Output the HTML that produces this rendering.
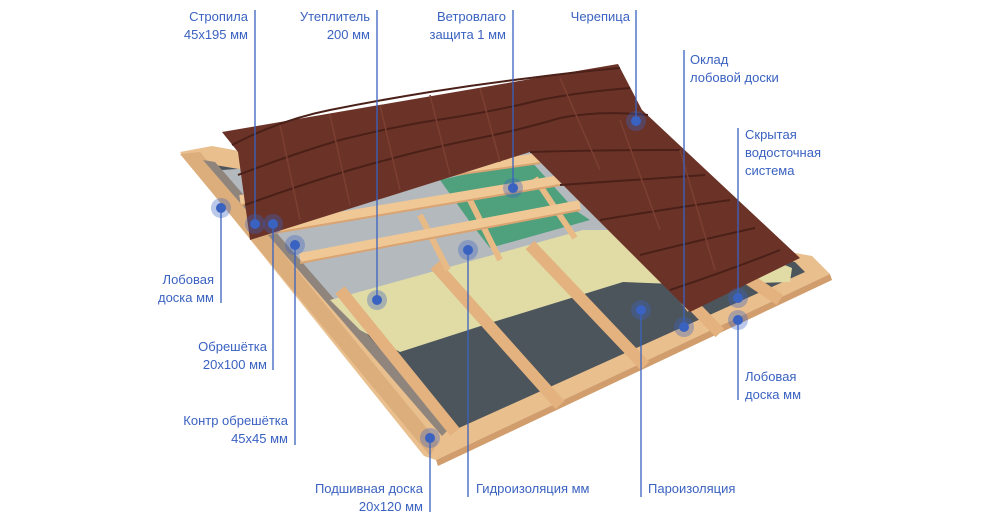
<!DOCTYPE html>
<html><head><meta charset="utf-8"><style>
html,body{margin:0;padding:0;background:#fff;width:1000px;height:522px;overflow:hidden}
svg{display:block}
text{font-family:"Liberation Sans","DejaVu Sans",sans-serif;font-size:13px;fill:#3a62c0}
</style></head><body>
<svg width="1000" height="522" viewBox="0 0 1000 522" xmlns="http://www.w3.org/2000/svg">
<!-- frame -->
<polygon points="180,152 212,146 812,256 830,274 436,460 424,456" fill="#e9bf8e"/>
<polygon points="180,154 200,152 438,442 430,456" fill="#dcae7c"/>
<polygon points="436,460 830,274 832,280 438,466" fill="#d19d6c"/>
<!-- dark inner -->
<polygon points="215,165 795,262 805,272 450,432" fill="#4d555c"/>
<!-- grey gutter channel -->
<polygon points="203,160 215,162 450,428 442,436" fill="#8f857c"/>
<!-- grey membrane -->
<polygon points="222,170 540,150 610,232 390,292 335,300" fill="#b4b9bd"/>
<!-- green -->
<polygon points="440,180 530,160 575,210 590,220 490,248 470,222" fill="#4fa07d"/>
<!-- insulation -->
<polygon points="330,300 583,230 700,230 792,268 790,282 700,285 623,282 490,323 400,352 360,330" fill="#e1dca6"/>
<!-- rafters -->
<g stroke="#e3b27f" stroke-width="12" stroke-linecap="butt">
<line x1="340" y1="290" x2="455" y2="432"/>
<line x1="435" y1="265" x2="560" y2="405"/>
<line x1="530" y1="245" x2="645" y2="366"/>
<line x1="615" y1="225" x2="720" y2="333"/>
<line x1="690" y1="240" x2="780" y2="300"/>
</g>
<!-- counter battens -->
<g stroke="#e8bb86" stroke-width="6">
<line x1="420" y1="215" x2="448" y2="270"/>
<line x1="470" y1="200" x2="500" y2="260"/>
<line x1="535" y1="178" x2="575" y2="238"/>
<line x1="600" y1="190" x2="690" y2="310"/>
</g>
<!-- battens -->
<g stroke="#f0c896" stroke-width="10">
<line x1="240" y1="200" x2="540" y2="158"/>
<line x1="262" y1="230" x2="560" y2="180"/>
<line x1="300" y1="258" x2="580" y2="205"/>
</g>
<g stroke="#d9a472" stroke-width="2">
<line x1="240" y1="205" x2="540" y2="163"/>
<line x1="262" y1="235" x2="560" y2="185"/>
<line x1="300" y1="263" x2="580" y2="210"/>
</g>
<!-- tiles -->
<polygon points="222,132 618,64 642,110 800,258 690,312 530,152 250,240 238,152" fill="#6b3328"/>
<g fill="none" stroke="#4b2018" stroke-width="2">
<path d="M232,145 Q280,120 330,110 Q380,100 430,92 Q480,84 530,78 Q575,72 620,68"/>
<path d="M238,175 Q290,155 340,140 Q400,125 450,118 Q500,110 540,100 Q580,92 630,88"/>
<path d="M245,205 Q300,185 350,170 Q420,150 470,140 Q520,130 560,118 Q600,110 648,115"/>
<path d="M530,152 Q600,150 680,150"/>
<path d="M560,185 Q630,180 705,175"/>
<path d="M600,220 Q660,210 730,200"/>
<path d="M640,255 Q700,240 755,228"/>
<path d="M670,290 Q730,270 780,250"/>
</g>
<g stroke="#7c3f31" stroke-width="1.5">
<line x1="280" y1="125" x2="300" y2="220"/><line x1="330" y1="115" x2="350" y2="205"/>
<line x1="380" y1="105" x2="400" y2="190"/><line x1="430" y1="95" x2="450" y2="175"/>
<line x1="480" y1="88" x2="500" y2="162"/><line x1="560" y1="78" x2="600" y2="170"/>
<line x1="620" y1="120" x2="660" y2="230"/><line x1="680" y1="150" x2="715" y2="270"/>
</g>
<!-- leader lines -->
<g stroke="#3a62c0" stroke-width="1.3">
<line x1="255" y1="10" x2="255" y2="224"/>
<line x1="377" y1="10" x2="377" y2="300"/>
<line x1="513" y1="10" x2="513" y2="188"/>
<line x1="636" y1="10" x2="636" y2="121"/>
<line x1="684" y1="50" x2="684" y2="327"/>
<line x1="738" y1="128" x2="738" y2="298"/>
<line x1="738" y1="320" x2="738" y2="400"/>
<line x1="641" y1="310" x2="641" y2="497"/>
<line x1="468" y1="250" x2="468" y2="497"/>
<line x1="430" y1="438" x2="430" y2="512"/>
<line x1="295" y1="245" x2="295" y2="445"/>
<line x1="273" y1="224" x2="273" y2="370"/>
<line x1="221" y1="208" x2="221" y2="303"/>
</g>
<g fill="#3a62c0">
<g fill-opacity="0.35">
<circle cx="255" cy="224" r="10"/><circle cx="377" cy="300" r="10"/><circle cx="513" cy="188" r="10"/>
<circle cx="636" cy="121" r="10"/><circle cx="684" cy="327" r="10"/><circle cx="738" cy="298" r="10"/>
<circle cx="738" cy="320" r="10"/><circle cx="641" cy="310" r="10"/><circle cx="468" cy="250" r="10"/>
<circle cx="430" cy="438" r="10"/><circle cx="295" cy="245" r="10"/><circle cx="273" cy="224" r="10"/>
<circle cx="221" cy="208" r="10"/>
</g>
<circle cx="255" cy="224" r="5"/><circle cx="377" cy="300" r="5"/><circle cx="513" cy="188" r="5"/>
<circle cx="636" cy="121" r="5"/><circle cx="684" cy="327" r="5"/><circle cx="738" cy="298" r="5"/>
<circle cx="738" cy="320" r="5"/><circle cx="641" cy="310" r="5"/><circle cx="468" cy="250" r="5"/>
<circle cx="430" cy="438" r="5"/><circle cx="295" cy="245" r="5"/><circle cx="273" cy="224" r="5"/>
<circle cx="221" cy="208" r="5"/>
</g>
<!-- labels -->
<g text-anchor="end">
<text x="248" y="21">Стропила</text><text x="248" y="39">45x195 мм</text>
<text x="370" y="21">Утеплитель</text><text x="370" y="39">200 мм</text>
<text x="506" y="21">Ветровлаго</text><text x="506" y="39">защита 1 мм</text>
<text x="630" y="21">Черепица</text>
<text x="214" y="284">Лобовая</text><text x="214" y="302">доска мм</text>
<text x="267" y="351">Обрешётка</text><text x="267" y="369">20x100 мм</text>
<text x="288" y="425">Контр обрешётка</text><text x="288" y="443">45x45 мм</text>
<text x="423" y="493">Подшивная доска</text><text x="423" y="511">20x120 мм</text>
</g>
<text x="690" y="64">Оклад</text><text x="690" y="82">лобовой доски</text>
<text x="745" y="139">Скрытая</text><text x="745" y="157">водосточная</text><text x="745" y="175">система</text>
<text x="745" y="381">Лобовая</text><text x="745" y="399">доска мм</text>
<text x="476" y="493">Гидроизоляция мм</text>
<text x="648" y="493">Пароизоляция</text>
</svg>
</body></html>
